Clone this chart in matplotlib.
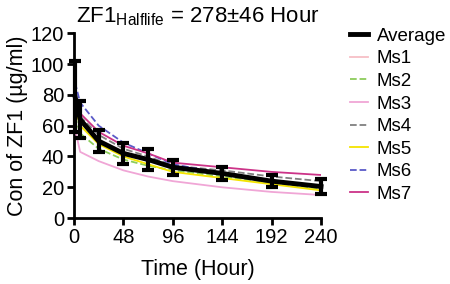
import numpy as np
import matplotlib.pyplot as plt
from matplotlib.lines import Line2D

plt.rcParams['font.family'] = ['Liberation Sans', 'DejaVu Sans']

# sampling times (hour)
time = [1, 6, 24, 48, 72, 96, 144, 192, 240]

# individual mice
ms1 = [72, 62, 51, 43, 38, 33, 29, 24, 20]
ms2 = [66, 55, 45, 38, 34, 31, 27, 23, 19]
ms3 = [58, 43, 37, 31, 27, 24, 20, 17, 15]
ms4 = [78, 66, 54, 45, 40, 34, 31, 27, 24]
ms5 = [72, 60, 48, 40, 35, 30, 26, 22, 18]
ms6 = [88, 75, 60, 49, 42, 35, 29, 24, 20]
ms7 = [80, 68, 56, 47, 42, 36, 33, 30, 28]

avg = [79, 64, 50, 42, 38, 33, 29, 24, 20.5]
err = [23, 12, 7, 7, 7, 5, 4, 4, 5]

series = [
    ("Ms1", ms1, "#f7bfc6", "-"),
    ("Ms2", ms2, "#8ccc5a", "--"),
    ("Ms3", ms3, "#f0a6d6", "-"),
    ("Ms4", ms4, "#808080", "--"),
    ("Ms5", ms5, "#f5e400", "-"),
    ("Ms6", ms6, "#5a5ac8", "--"),
    ("Ms7", ms7, "#cc3388", "-"),
]

fig = plt.figure(figsize=(4.5, 2.84), dpi=100)
ax = fig.add_axes([0.1644, 0.232, 0.549, 0.651])

handles = [Line2D([], [], color='black', lw=3.5)]
labels = ['Average']
for name, vals, c, ls in series:
    ln, = ax.plot(time, vals, color=c, ls=ls, lw=1.3, zorder=3)
    handles.append(ln)
    labels.append(name)

ax.errorbar(time, avg, yerr=err, color='black', lw=3.5, elinewidth=3,
            capsize=4.5, capthick=3, zorder=5, clip_on=False)

ax.set_xlim(0, 240)
ax.set_ylim(0, 120)
ax.set_xticks(np.arange(0, 241, 48))
ax.set_yticks(np.arange(0, 121, 20))
for s in ['top', 'right']:
    ax.spines[s].set_visible(False)
for s in ['left', 'bottom']:
    ax.spines[s].set_linewidth(2)
ax.tick_params(width=2, length=5, labelsize=14.5, pad=2)

ax.set_xlabel('Time (Hour)', fontsize=15.5, labelpad=9)
ax.set_ylabel('Con of ZF1 (µg/ml)', fontsize=15.5, labelpad=2)
ax.set_title(r'ZF1$_{\mathregular{Halflife}}$ = 278±46 Hour', fontsize=16, pad=8)

ax.legend(handles, labels, loc='upper left', bbox_to_anchor=(1.085, 1.07),
          frameon=False, fontsize=13.5, handlelength=1.0,
          labelspacing=0.29, handletextpad=0.45, borderaxespad=0)

fig.savefig('out.png', dpi=100)
